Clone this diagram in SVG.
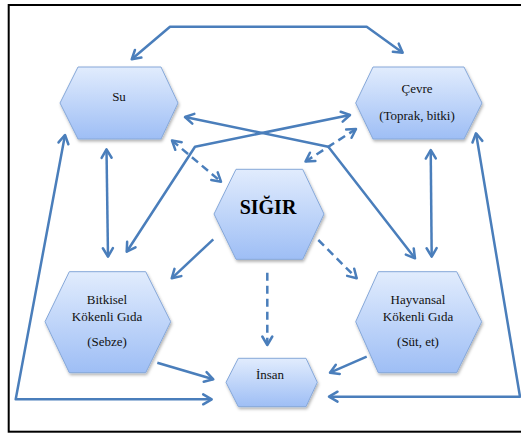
<svg xmlns="http://www.w3.org/2000/svg" width="521" height="433" viewBox="0 0 521 433">
<defs>
<linearGradient id="hexFill" x1="0" y1="0" x2="0" y2="1">
<stop offset="0" stop-color="#e1ecfd"/>
<stop offset="1" stop-color="#9ebef5"/>
</linearGradient>
<filter id="shadow" x="-20%" y="-20%" width="140%" height="150%">
<feDropShadow dx="1" dy="2" stdDeviation="1.5" flood-color="#000" flood-opacity="0.3"/>
</filter>
<marker id="arrow" viewBox="0 0 12 12" markerWidth="12" markerHeight="12" refX="11" refY="6" markerUnits="userSpaceOnUse" orient="auto-start-reverse" overflow="visible">
<path d="M2.5,1 L11,6 L2.5,11" fill="none" stroke="#4a7ebb" stroke-width="2.5" stroke-linecap="round" stroke-linejoin="round"/>
</marker>
</defs>
<style>
.hex{fill:url(#hexFill);stroke:#86a8d9;stroke-width:1;filter:url(#shadow)}
.lbl{font-family:'Liberation Serif','Times New Roman',serif;font-size:13px;fill:#111;text-anchor:middle}
.big{font-family:'Liberation Serif','Times New Roman',serif;font-size:20px;font-weight:bold;fill:#000;text-anchor:middle}
.c{fill:none;stroke:#4a7ebb;stroke-width:2.5;stroke-linejoin:round}
.d{stroke-dasharray:8 5}
.s{marker-end:url(#arrow)}
.b{marker-start:url(#arrow);marker-end:url(#arrow)}
</style>
<rect x="8.7" y="5" width="525" height="426.7" fill="#fff" stroke="#000" stroke-width="2"/>
<g id="connectors">
<path class="c b" d="M131.7,59.3 L170,26.7 L366.7,26.7 L402.7,52.7"/>
<path class="c b" d="M185,117 L328.3,146.7 L415,258.3"/>
<path class="c b" d="M126.7,251.7 L195,146.7 L350,115"/>
<path class="c d b" d="M172,140.5 L221,181.7"/>
<path class="c d b" d="M356,129 L305.5,161.5"/>
<path class="c b" d="M106.5,149.3 L108,256.7"/>
<path class="c b" d="M65,135 L15.7,399.3 L211.7,399.3"/>
<path class="c b" d="M476,133.3 L520,396.7 L329,396.7"/>
<path class="c b" d="M430.7,150 L431.7,256.7"/>
<path class="c s" d="M213.3,239.3 L171.7,278.3"/>
<path class="c d s" d="M318.3,240 L356.7,278.3"/>
<path class="c d s" d="M267.3,272.7 L267.3,345"/>
<path class="c s" d="M157.3,362.7 L213.3,379.3"/>
<path class="c s" d="M366.7,356.7 L330,372.7"/>
</g>
<g id="su">
<polygon class="hex" points="60,103 78,67 161,67 178,103 161,139 78,139"/>
<text class="lbl" x="119" y="101">Su</text>
</g>
<g id="cevre">
<polygon class="hex" points="355.7,103 373,67 464,67 482,103 464,139 373,139"/>
<text class="lbl" x="417" y="92.5">Çevre</text>
<text class="lbl" x="417" y="120">(Toprak, bitki)</text>
</g>
<g id="sigir">
<polygon class="hex" points="214,214 236,169.3 302.7,169.3 324,214 302.7,259.3 236,259.3"/>
<text class="big" x="268" y="214">SIĞIR</text>
</g>
<g id="bitkisel">
<polygon class="hex" points="45,321.7 69.3,271.7 145.7,271.7 170.7,321.7 145.7,372.7 69.3,372.7"/>
<text class="lbl" x="107" y="304">Bitkisel</text>
<text class="lbl" x="107" y="320.5">Kökenli Gıda</text>
<text class="lbl" x="107" y="345.5">(Sebze)</text>
</g>
<g id="hayvansal">
<polygon class="hex" points="355.7,321.7 378.3,271.7 456.7,271.7 481.7,321.7 456.7,372.7 378.3,372.7"/>
<text class="lbl" x="418" y="304">Hayvansal</text>
<text class="lbl" x="418" y="320.5">Kökenli Gıda</text>
<text class="lbl" x="418" y="345.5">(Süt, et)</text>
</g>
<g id="insan">
<polygon class="hex" points="226,382.3 238.3,358.3 306,358.3 317.3,382.3 306,406.7 238.3,406.7"/>
<text class="lbl" x="270" y="379">İnsan</text>
</g>
</svg>
